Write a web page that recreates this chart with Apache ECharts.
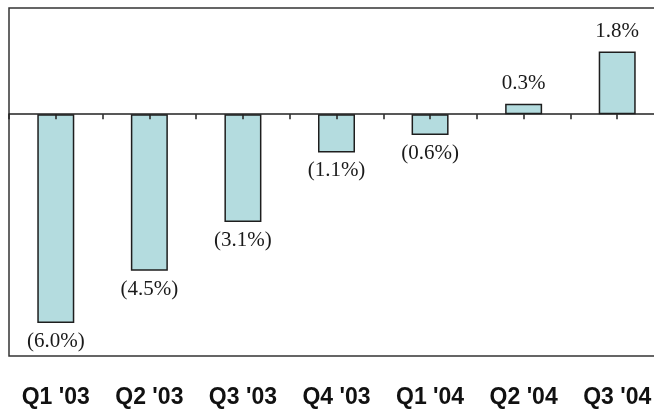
<!DOCTYPE html>
<html>
<head>
<meta charset="utf-8">
<script src="https://cdn.jsdelivr.net/npm/echarts@6/dist/echarts.min.js"></script>
<style>
  html, body { margin: 0; padding: 0; background: #ffffff; overflow: hidden; }
  /* the plot runs past the right edge of the window */
  #chart { width: 664px; height: 409px; }
</style>
</head>
<body>
<div id="chart"></div>
<script>
// Quarterly change, percent
const quarters = ["Q1 '03", "Q2 '03", "Q3 '03", "Q4 '03", "Q1 '04", "Q2 '04", "Q3 '04"];
const changePct = [-6.0, -4.5, -3.1, -1.1, -0.6, 0.3, 1.8];

function pctText(v) {
  return v < 0 ? '(' + Math.abs(v).toFixed(1) + '%)' : v.toFixed(1) + '%';
}

const yMin = -6.95, yMax = 3.05;
const gridTop = 8, gridHeight = 348;
// distance from the plot's top edge down to the zero line
const zeroFromTop = gridHeight * yMax / (yMax - yMin);

const chart = echarts.init(document.getElementById('chart'), null, { renderer: 'canvas' });

const barData = changePct.map(function (v) {
  return {
    value: v,
    label: { position: v < 0 ? 'bottom' : 'top', distance: v < 0 ? 8 : 10 }
  };
});

chart.setOption({
  animation: false,
  backgroundColor: '#ffffff',
  grid: {
    left: 9, top: gridTop, right: 0, height: gridHeight,
    show: true, borderColor: '#333333', borderWidth: 1.5, backgroundColor: 'transparent'
  },
  xAxis: [
    {
      // zero line with ticks at the category boundaries
      type: 'category', data: quarters, position: 'bottom',
      axisLine: { onZero: true, lineStyle: { color: '#222222', width: 1.5 } },
      axisTick: { show: true, length: 5, lineStyle: { color: '#222222', width: 1.5 } },
      axisLabel: { show: false }, splitLine: { show: false }
    },
    {
      // quarter names along the bottom edge
      type: 'category', data: quarters, position: 'bottom',
      axisLine: { show: false, onZero: false }, axisTick: { show: false },
      axisLabel: {
        show: true, margin: 30, color: '#111111',
        fontFamily: 'Liberation Sans, Arial, sans-serif', fontWeight: 'bold', fontSize: 23
      },
      splitLine: { show: false }
    },
    {
      // ticks at the category centres, hanging below the zero line over the bars
      type: 'category', data: quarters, position: 'top', offset: -zeroFromTop, z: 5,
      axisLine: { show: false, onZero: false },
      axisTick: { show: true, inside: true, alignWithLabel: true, length: 5, lineStyle: { color: '#222222', width: 1.5 } },
      axisLabel: { show: false }, splitLine: { show: false }
    }
  ],
  yAxis: {
    type: 'value', min: yMin, max: yMax,
    axisLine: { show: false }, axisTick: { show: false },
    axisLabel: { show: false }, splitLine: { show: false }
  },
  series: [{
    type: 'bar',
    xAxisIndex: 0,
    data: barData,
    barWidth: 37,
    itemStyle: { color: '#b4dcdf', borderColor: '#1e1e1e', borderWidth: 1.5 },
    label: {
      show: true,
      formatter: function (p) { return pctText(p.value); },
      fontFamily: 'Liberation Serif, Times New Roman, serif',
      fontSize: 21, color: '#1a1a1a'
    }
  }]
});
</script>
</body>
</html>
